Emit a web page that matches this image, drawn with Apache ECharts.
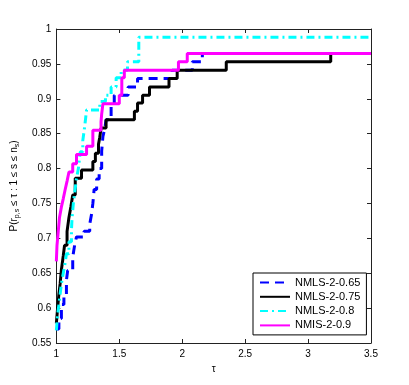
<!DOCTYPE html>
<html>
<head>
<meta charset="utf-8">
<script src="https://cdn.jsdelivr.net/npm/echarts@6/dist/echarts.min.js"></script>
<style>html,body{margin:0;padding:0;background:#fff;}#c{width:409px;height:385px;}</style>
</head>
<body>
<div id="c"></div>
<script>
var seriesNames = ['NMLS-2-0.65', 'NMLS-2-0.75', 'NMLS-2-0.8', 'NMIS-2-0.9'];
var xTicks = [1, 1.5, 2, 2.5, 3, 3.5];
var yTicks = [0.55, 0.6, 0.65, 0.7, 0.75, 0.8, 0.85, 0.9, 0.95, 1];

var tau065 = [1.0, 1.02, 1.04, 1.06, 1.08, 1.09, 1.13, 1.145, 1.16, 1.22, 1.265, 1.28, 1.29, 1.30, 1.32, 1.34, 1.36, 1.37, 1.385, 1.395, 1.435, 1.46, 1.57, 1.645, 1.92, 2.08, 2.16, 3.5];
var p065   = [0.57, 0.585, 0.605, 0.62, 0.64, 0.654, 0.673, 0.69, 0.702, 0.71, 0.72, 0.735, 0.75, 0.77, 0.785, 0.80, 0.825, 0.846, 0.858, 0.87, 0.889, 0.905, 0.917, 0.929, 0.941, 0.953, 0.965, 0.965];

var tau075 = [1.0, 1.01, 1.02, 1.03, 1.04, 1.055, 1.065, 1.085, 1.10, 1.115, 1.13, 1.15, 1.20, 1.29, 1.31, 1.335, 1.345, 1.355, 1.395, 1.62, 1.645, 1.685, 1.74, 1.895, 1.96, 2.35, 3.18, 3.5];
var p075   = [0.578, 0.60, 0.62, 0.635, 0.655, 0.675, 0.69, 0.71, 0.73, 0.745, 0.762, 0.786, 0.798, 0.81, 0.822, 0.835, 0.845, 0.858, 0.87, 0.882, 0.894, 0.905, 0.917, 0.929, 0.941, 0.953, 0.965, 0.965];

var tau08 = [1.0, 1.01, 1.02, 1.03, 1.04, 1.055, 1.07, 1.08, 1.10, 1.12, 1.125, 1.135, 1.145, 1.16, 1.175, 1.19, 1.21, 1.225, 1.24, 1.345, 1.39, 1.435, 1.475, 1.515, 1.565, 1.655, 3.5];
var p08   = [0.568, 0.59, 0.605, 0.62, 0.635, 0.65, 0.665, 0.678, 0.695, 0.712, 0.73, 0.75, 0.765, 0.786, 0.80, 0.824, 0.84, 0.86, 0.884, 0.896, 0.905, 0.917, 0.93, 0.941, 0.953, 0.988, 0.988];

var tau09 = [1.0, 1.005, 1.015, 1.025, 1.04, 1.055, 1.07, 1.085, 1.10, 1.13, 1.16, 1.24, 1.29, 1.355, 1.36, 1.37, 1.50, 1.52, 1.54, 1.97, 2.04, 3.5];
var p09   = [0.667, 0.69, 0.71, 0.73, 0.745, 0.757, 0.77, 0.782, 0.795, 0.807, 0.82, 0.832, 0.855, 0.867, 0.878, 0.893, 0.905, 0.93, 0.941, 0.953, 0.965, 0.965];

var colors = ['#0000ff', '#000000', '#00ffff', '#ff00ff'];
var dashes = [[9, 6], 'solid', [8, 4, 2, 4], 'solid'];
var taus = [tau065, tau075, tau08, tau09];
var ps = [p065, p075, p08, p09];

function zip(a, b) { return a.map(function (v, i) { return [v, b[i]]; }); }
var FONT = 'Liberation Sans, Arial, sans-serif';

var series = seriesNames.map(function (name, i) {
  return {
    name: name, type: 'line', step: 'end', symbol: 'none', animation: false,
    xAxisIndex: 0, yAxisIndex: 0,
    data: zip(taus[i], ps[i]),
    lineStyle: { color: colors[i], width: 3, type: dashes[i], cap: 'butt' },
    itemStyle: { color: colors[i] },
    z: 2 + i
  };
});

var chart = echarts.init(document.getElementById('c'), null, { renderer: 'canvas' });
var fmt = function (v) { return String(parseFloat(v.toFixed(2))); };
var axisCommon = {
  axisLine: { show: true, lineStyle: { color: '#222', width: 1 } },
  axisTick: { show: true, inside: true, length: 4, lineStyle: { color: '#222' } },
  splitLine: { show: false }
};
chart.setOption({
  animation: false,
  backgroundColor: '#fff',
  grid: { left: 53, right: 38, top: 29, bottom: 42, containLabel: false },
  legend: {
    data: seriesNames, orient: 'vertical', left: 253, top: 273,
    itemWidth: 30, itemHeight: 10, itemGap: 3.3,
    padding: [4, 6, 4, 6],
    borderColor: '#000', borderWidth: 1, backgroundColor: '#fff',
    itemStyle: { opacity: 0 },
    textStyle: { fontFamily: FONT, fontSize: 11, color: '#000' }
  },
  xAxis: [
    Object.assign({
      type: 'value', min: xTicks[0], max: xTicks[xTicks.length - 1], interval: 0.5, position: 'bottom',
      name: 'τ', nameLocation: 'middle', nameGap: 20,
      nameTextStyle: { fontFamily: FONT, fontSize: 10, color: '#000' },
      axisLabel: { fontFamily: FONT, fontSize: 10, color: '#000', margin: 6, formatter: fmt }
    }, axisCommon),
    Object.assign({
      type: 'value', min: xTicks[0], max: xTicks[xTicks.length - 1], interval: 0.5, position: 'top',
      axisLabel: { show: false }
    }, axisCommon)
  ],
  yAxis: [
    Object.assign({
      type: 'value', min: yTicks[0], max: yTicks[yTicks.length - 1], interval: 0.05, position: 'left',
      name: '{a|P(r}{s|p,s}{a| ≤ τ : 1 ≤ s ≤ n}{s|s}{a|)}', nameLocation: 'middle', nameGap: 28, nameRotate: 90,
      nameTextStyle: { color: '#000', rich: {
        a: { fontFamily: FONT, fontSize: 10, color: '#000', lineHeight: 14 },
        s: { fontFamily: FONT, fontSize: 7, color: '#000', lineHeight: 14, verticalAlign: 'bottom', padding: [6, 0, 0, 0] }
      } },
      axisLabel: { fontFamily: FONT, fontSize: 10, color: '#000', margin: 5, formatter: fmt }
    }, axisCommon),
    Object.assign({
      type: 'value', min: yTicks[0], max: yTicks[yTicks.length - 1], interval: 0.05, position: 'right',
      axisLabel: { show: false }
    }, axisCommon)
  ],
  series: series
});
</script>
</body>
</html>
